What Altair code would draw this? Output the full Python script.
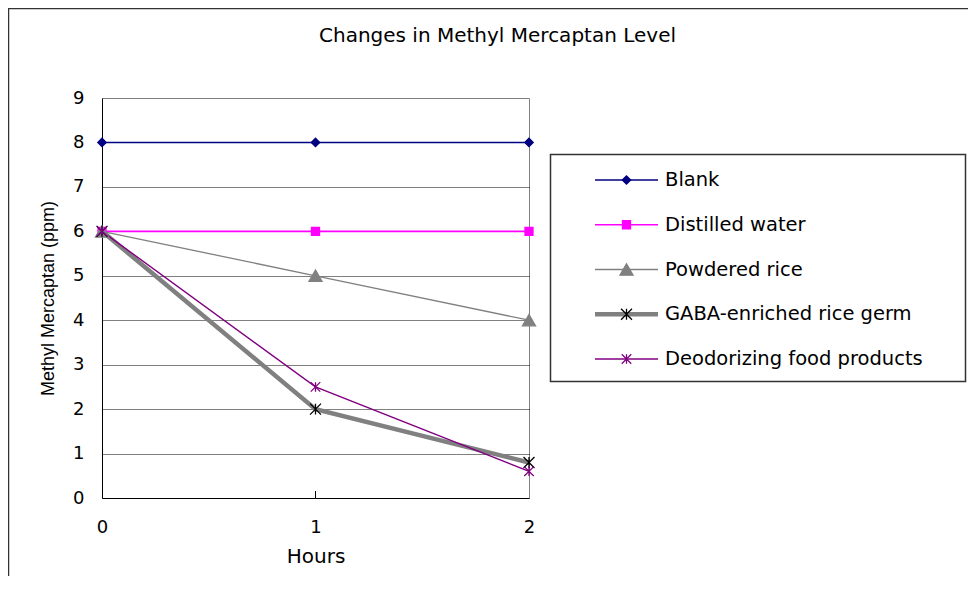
import altair as alt
import pandas as pd

# ---- data ----
hours = [0, 1, 2]
series_names = ["Blank", "Distilled water", "Powdered rice",
                "GABA-enriched rice germ", "Deodorizing food products"]
blank = [8, 8, 8]
distilled = [6, 6, 6]
powdered = [6, 5, 4]
gaba = [6, 2, 0.8]
deodorizing = [6, 2.5, 0.6]
y_ticks = [0, 1, 2, 3, 4, 5, 6, 7, 8, 9]
x_ticks = [0, 1, 2]

# ---- styles ----
line_colors = ["#000080", "#FF00FF", "#808080", "#808080", "#800080"]
marker_colors = ["#000080", "#FF00FF", "#808080", "#000000", "#800080"]
line_widths = [1.6, 1.6, 1.3, 4.5, 1.4]
ASTER = "M-1,-1L1,1M-1,1L1,-1M0,-1L0,1"
shapes = ["diamond", "square", "triangle-up", ASTER, ASTER]
marker_sizes = [70, 64, 170, 120, 90]

rows = []
for name, vals in zip(series_names, [blank, distilled, powdered, gaba, deodorizing]):
    for h, v in zip(hours, vals):
        rows.append({"hours": h, "value": v, "series": name})
df = pd.DataFrame(rows)
leg_df = pd.DataFrame({"series": series_names})

FONT = "DejaVu Sans"

color_enc = alt.Color("series:N", scale=alt.Scale(domain=series_names, range=line_colors), legend=None)
width_enc = alt.StrokeWidth("series:N", scale=alt.Scale(type="ordinal", domain=series_names, range=line_widths), legend=None)
shape_enc = alt.Shape("series:N", scale=alt.Scale(domain=series_names, range=shapes), legend=None)
fill_enc = alt.Fill("series:N", scale=alt.Scale(domain=series_names, range=marker_colors), legend=None)
stroke_enc = alt.Stroke("series:N", scale=alt.Scale(domain=series_names, range=marker_colors), legend=None)
size_enc = alt.Size("series:N", scale=alt.Scale(type="ordinal", domain=series_names, range=marker_sizes), legend=None)

x_axis = alt.Axis(values=x_ticks, format=".0f", ticks=False, grid=False,
                  labelFlush=False, labelOverlap=False, labelSeparation=0,
                  labelFont=FONT, labelFontSize=18, labelColor="black",
                  labelPadding=20, domainColor="black",
                  title="Hours", titleFont=FONT, titleFontSize=20,
                  titleFontWeight="normal", titleColor="black",
                  titleY=48, titleBaseline="top")
x_enc = alt.X("hours:Q", scale=alt.Scale(domain=[0, 2], nice=False), axis=x_axis)
y_enc = alt.Y("value:Q", scale=alt.Scale(domain=[0, 9], nice=False),
              axis=alt.Axis(values=y_ticks, ticks=False, grid=True,
                            labelFlush=False, labelOverlap=False,
                            gridColor="black", gridDash=[1, 1], gridWidth=1,
                            gridOpacity={"condition": {"test": "datum.value === 0 || datum.value === 9", "value": 0}, "value": 1},
                            labelFont=FONT, labelFontSize=18, labelColor="black",
                            labelPadding=18, domainColor="black",
                            title="Methyl Mercaptan (ppm)", titleFont="Liberation Sans",
                            titleFontSize=18, titleFontWeight="normal", titleColor="black",
                            titleX=-45, titleBaseline="bottom"))

lines = alt.Chart(df).mark_line().encode(
    x=x_enc, y=y_enc, color=color_enc, strokeWidth=width_enc, order="hours:Q")
points = alt.Chart(df).mark_point(filled=True, opacity=1, strokeWidth=1.3).encode(
    x=alt.X("hours:Q", axis=x_axis), y="value:Q", shape=shape_enc, fill=fill_enc,
    stroke=stroke_enc, size=size_enc)
# small inward tick mark at the middle category (Excel style)
mid_tick = alt.Chart(pd.DataFrame({"hours": [x_ticks[1]]})).mark_rule(color="black", strokeWidth=1).encode(
    x=alt.X("hours:Q", axis=x_axis), y=alt.value(393), y2=alt.value(400))
main = alt.layer(lines, points, mid_tick)

# ---- legend (own scales) ----
lx = alt.Scale(domain=[0, 1], range=[493, 556])
ly = alt.Scale(type="point", domain=series_names, range=[82, 261], padding=0)
leg_lines = alt.Chart(leg_df).mark_rule().encode(
    x=alt.XDatum(0, scale=lx, axis=None), x2=alt.X2Datum(1),
    y=alt.Y("series:N", scale=ly, axis=None), color=color_enc, strokeWidth=width_enc)
leg_points = alt.Chart(leg_df).mark_point(filled=True, opacity=1, strokeWidth=1.3).encode(
    x=alt.XDatum(0.5, scale=lx, axis=None),
    y=alt.Y("series:N", scale=ly, axis=None),
    shape=shape_enc, fill=fill_enc, stroke=stroke_enc, size=size_enc)
leg_text = alt.Chart(leg_df).mark_text(align="left", baseline="middle", dx=7,
                                       font=FONT, fontSize=19.5, color="black").encode(
    x=alt.XDatum(1, scale=lx, axis=None),
    y=alt.Y("series:N", scale=ly, axis=None), text="series:N")
legend = alt.layer(leg_lines, leg_points, leg_text)

one = pd.DataFrame({"k": [0]})
leg_box = alt.Chart(one).mark_rect(fill="white", stroke="#333333", strokeWidth=1.5).encode(
    x=alt.value(448.5), x2=alt.value(863.5), y=alt.value(56.5), y2=alt.value(283.5))
frame = alt.Chart(one).mark_rect(fill="transparent", stroke="#333333", strokeWidth=1.5).encode(
    x=alt.value(-93.5), x2=alt.value(900), y=alt.value(-89.5), y2=alt.value(600))

chart = alt.layer(frame, main, leg_box, legend).resolve_scale(
    x="independent", y="independent"
).properties(
    width=427, height=400,
    title=alt.TitleParams("Changes in Methyl Mercaptan Level", font=FONT, fontSize=20,
                          fontWeight="normal", color="black", anchor="middle",
                          frame="group", dx=182, offset=-54, baseline="alphabetic"),
    autosize=alt.AutoSizeParams(type="none"),
    padding={"left": 94, "top": 90, "right": 439, "bottom": 78},
).configure_view(stroke="#808080", strokeWidth=1)

chart.save("out.html", embed_options={"renderer": "svg", "actions": False})
